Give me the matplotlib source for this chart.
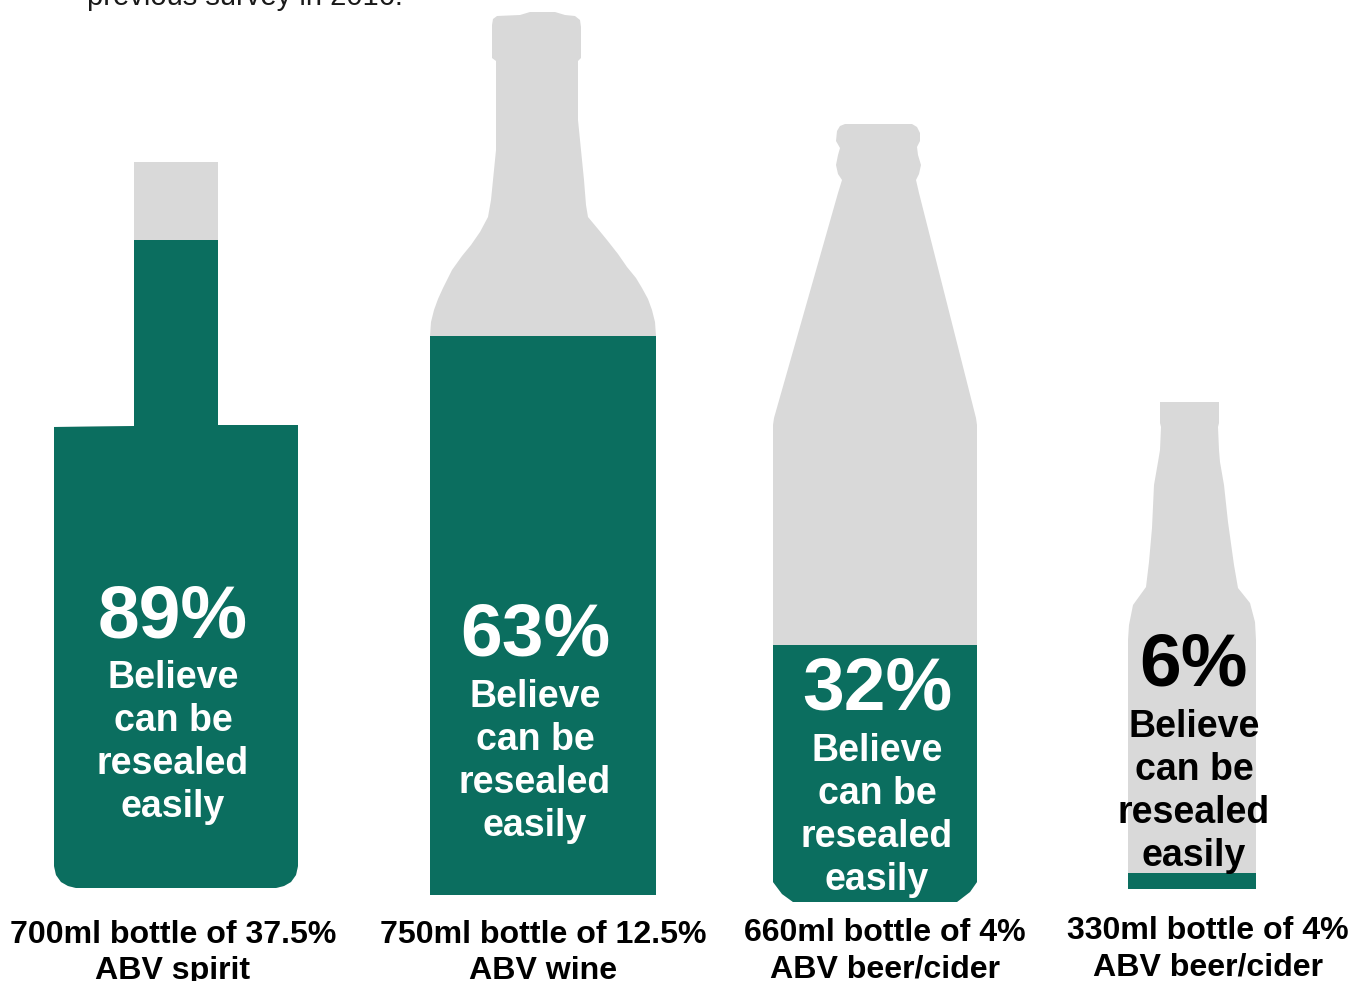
import matplotlib
matplotlib.use("Agg")
import matplotlib.pyplot as plt
from matplotlib.patches import Polygon

plt.rcParams["font.family"] = ["Liberation Sans", "DejaVu Sans"]

W, H = 1365, 981
GREEN = "#0B6E5F"
GREY = "#D9D9D9"

# Survey results
percentages = [89, 63, 32, 6]
captions = [
    ["700ml bottle of 37.5%", "ABV spirit"],
    ["750ml bottle of 12.5%", "ABV wine"],
    ["660ml bottle of 4%", "ABV beer/cider"],
    ["330ml bottle of 4%", "ABV beer/cider"],
]
statement = ["Believe", "can be", "resealed", "easily"]
intro_tail = "previous survey in 2016."

# Bottle silhouettes, traced clockwise from the top left of the lip
spirit_outline = [
    (134, 162), (218, 162), (218, 425), (298, 425), (298, 866), (296, 875), (291, 882),
    (284, 886), (276, 888), (76, 888), (68, 886), (61, 882), (56, 875), (54, 866),
    (54, 427), (134, 426),
]
wine_outline = [
    (497, 16), (520, 15), (530, 12), (555, 12), (565, 15), (575, 16), (580, 20), (581, 27),
    (581, 58), (578, 61), (578, 120), (581, 150), (584, 180), (586, 205), (588, 217), (598, 229),
    (607, 240), (618, 254), (627, 267), (636, 278), (642, 288), (648, 299), (652, 310), (655, 322),
    (656, 336), (656, 895), (430, 895), (430, 336), (431, 322), (434, 310), (438, 299),
    (443, 288), (452, 270), (462, 256), (471, 245), (480, 232), (488, 217), (491, 200), (494, 170),
    (496, 150), (496, 61), (492, 58), (492, 25), (493, 19),
]
beer_outline = [
    (845, 124), (912, 124), (917, 127), (920, 133), (920, 141), (917, 147), (918, 155),
    (921, 165), (919, 174), (916, 180), (919, 193), (976, 418), (977, 425), (977, 882),
    (970, 892), (957, 902), (793, 902), (782, 894), (773, 882), (773, 425), (774, 418),
    (838, 193), (842, 180), (838, 174), (836, 165), (838, 155), (840, 148), (836, 141),
    (837, 131), (840, 126),
]
small_outline = [
    (1160, 402), (1219, 402), (1219, 423), (1218, 427), (1219, 450), (1220, 462), (1224, 485),
    (1228, 522), (1234, 565), (1238, 588), (1250, 603), (1255, 622), (1256, 640), (1256, 889),
    (1128, 889), (1128, 640), (1129, 625), (1133, 605), (1146, 587), (1149, 562), (1152, 528),
    (1154, 485), (1158, 462), (1160, 450), (1161, 427), (1160, 423),
]
outlines = [spirit_outline, wine_outline, beer_outline, small_outline]

# Value shown at the top of each bottle's own fill scale
scale_tops = [99.7, 99.5, 96.9, 182.6]

# Label layout per bottle: centre x, baseline of the percentage, text colour
label_x = [173, 535, 877, 1194]
pct_baseline = [637, 656, 710, 686]
label_colors = ["white", "white", "white", "black"]
caption_x = [173, 543, 885, 1208]
caption_baseline = [943, 943, 941, 939]

fig = plt.figure(figsize=(W / 100, H / 100), dpi=100, facecolor="white")


def pixel_axes(zorder):
    ax = fig.add_axes([0, 0, 1, 1], zorder=zorder)
    ax.set_xlim(0, W)
    ax.set_ylim(H, 0)
    ax.axis("off")
    return ax


back = pixel_axes(0)
front = pixel_axes(2)

for outline, pct, top in zip(outlines, percentages, scale_tops):
    shape = Polygon(outline, closed=True, facecolor=GREY, edgecolor="none")
    back.add_patch(shape)

    xs = [p[0] for p in outline]
    ys = [p[1] for p in outline]
    x0, x1, y0, y1 = min(xs), max(xs), min(ys), max(ys)

    # Fill level: a bar on the bottle's percentage scale, cut to the silhouette
    ax = fig.add_axes([x0 / W, 1 - y1 / H, (x1 - x0) / W, (y1 - y0) / H], zorder=1)
    ax.set_xlim(0, 1)
    ax.set_ylim(0, top)
    ax.axis("off")
    bars = ax.bar([0.5], [pct], width=1, color=GREEN, linewidth=0)
    bars[0].set_clip_path(shape)

for i, pct in enumerate(percentages):
    front.text(label_x[i], pct_baseline[i], f"{pct}%", color=label_colors[i], fontsize=54,
               fontweight="bold", ha="center", va="baseline")
    for j, line in enumerate(statement):
        front.text(label_x[i], pct_baseline[i] + 51 + 43 * j, line, color=label_colors[i],
                   fontsize=27, fontweight="bold", ha="center", va="baseline")
    for j, line in enumerate(captions[i]):
        front.text(caption_x[i], caption_baseline[i] + 36 * j, line, color="black",
                   fontsize=23.1, fontweight="bold", ha="center", va="baseline")

front.text(87, 5, intro_tail, color="#1a1a1a", fontsize=21, ha="left", va="baseline")

fig.savefig("out.png", dpi=100)
